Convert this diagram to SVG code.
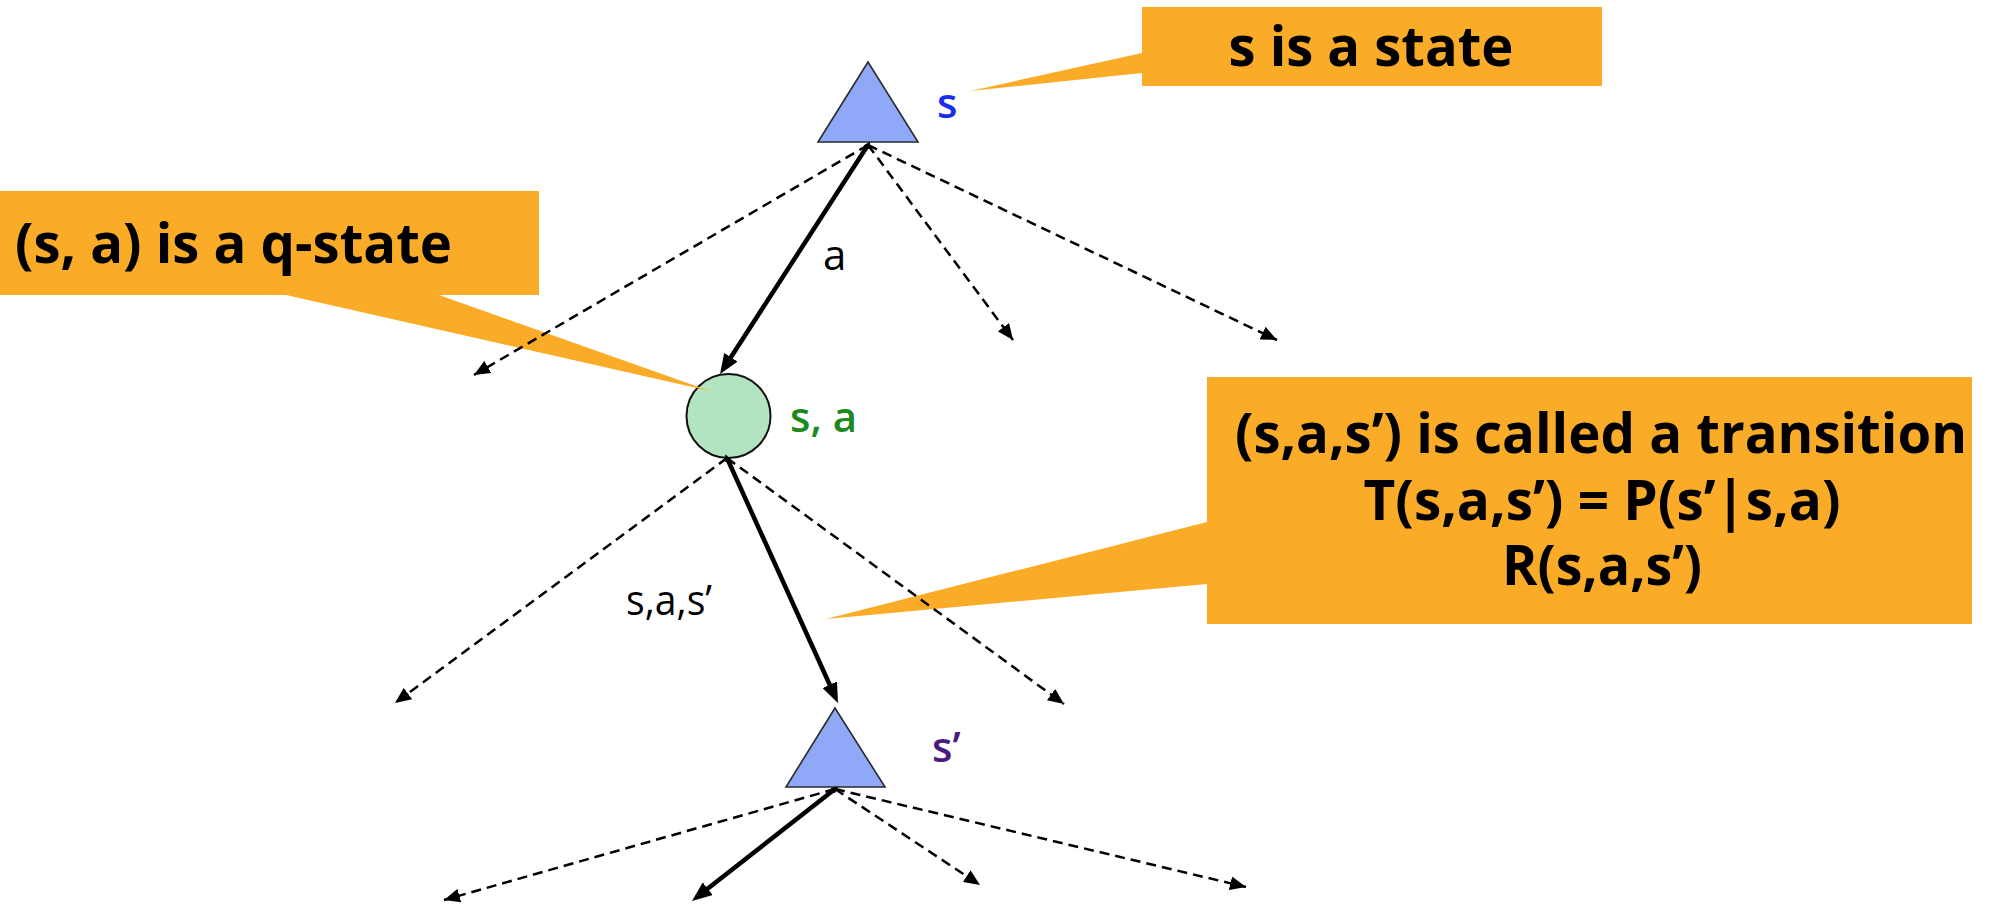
<svg xmlns="http://www.w3.org/2000/svg" width="1998" height="904" viewBox="0 0 1998 904">
<style>
.tri{fill:#8fa8f7;stroke:#2a2a2a;stroke-width:1.6}
.q{fill:#b3e4c1;stroke:#111;stroke-width:2}
.callout{fill:#faac29}
.ct{font-family:"Open Sans","Noto Sans","DejaVu Sans",sans-serif;font-weight:700;fill:#000}
.lbl{font-family:"Open Sans","Noto Sans","DejaVu Sans",sans-serif;font-size:42px}
.dash{stroke:#000;stroke-width:2.5;stroke-dasharray:10 6;fill:none;marker-end:url(#ahd)}
.solid{stroke:#000;stroke-width:4.5;fill:none;marker-end:url(#ahs);marker-start:url(#tail)}
</style>
<defs>
<marker id="ahd" viewBox="0 0 16 14" refX="16" refY="7" markerWidth="16" markerHeight="14" markerUnits="userSpaceOnUse" orient="auto"><path d="M0,0 L16,7 L0,14 Z" fill="#000"/></marker>
<marker id="ahs" viewBox="0 0 20 16" refX="14" refY="8" markerWidth="20" markerHeight="16" markerUnits="userSpaceOnUse" orient="auto"><path d="M0,0 L20,8 L0,16 Z" fill="#000"/></marker>
<marker id="tail" viewBox="0 0 7 7" refX="3" refY="3.5" markerWidth="7" markerHeight="7" markerUnits="userSpaceOnUse" orient="auto-start-reverse"><path d="M0,0 L7,3.5 L0,7 Z" fill="#000"/></marker>
</defs>

<g id="node-s">
<polygon class="tri" points="868,62 818,142 918,142"/>
<text class="lbl" x="937" y="118" fill="#1a2cf0" font-weight="600">s</text>
</g>
<g id="node-sa">
<circle class="q" cx="728.5" cy="416" r="42"/>
<text class="lbl" x="790" y="432" fill="#1d8a1d" font-weight="600">s, a</text>
</g>
<g id="node-s2">
<polygon class="tri" points="835,708 786,787 885,787"/>
<text class="lbl" x="932" y="762" fill="#4a1a7e" font-weight="600">s’</text>
</g>

<g id="callout-state">
<path class="callout" d="M1142,7 H1602 V86 H1142 V73 L970,91 L1142,53 Z"/>
<text class="ct" x="1371" y="66" font-size="55" text-anchor="middle" textLength="285" lengthAdjust="spacingAndGlyphs">s is a state</text>
</g>
<g id="callout-qstate">
<path class="callout" d="M0,191 H539 V295 H439 L710,391 L286,295 H0 Z"/>
<text class="ct" x="15" y="263" font-size="55" textLength="437" lengthAdjust="spacingAndGlyphs">(s, a) is a q-state</text>
</g>
<g id="callout-transition">
<path class="callout" d="M1207,377 H1972 V624 H1207 V584 L826,619 L1207,522 Z"/>
<text class="ct" x="1601" y="453" font-size="56" text-anchor="middle" textLength="732" lengthAdjust="spacingAndGlyphs">(s,a,s’) is called a transition</text>
<text class="ct" x="1602" y="520" font-size="56" text-anchor="middle" textLength="477" lengthAdjust="spacingAndGlyphs">T(s,a,s’) = P(s’|s,a)</text>
<text class="ct" x="1602" y="585" font-size="56" text-anchor="middle" textLength="200" lengthAdjust="spacingAndGlyphs">R(s,a,s’)</text>
</g>

<g id="connectors">
<line class="solid" x1="868" y1="145" x2="723.3" y2="369"/>
<line class="dash" x1="868" y1="145" x2="474" y2="375"/>
<line class="dash" x1="868" y1="145" x2="1013" y2="340"/>
<line class="dash" x1="868" y1="145" x2="1277" y2="340"/>
<line class="solid" x1="727" y1="458" x2="835.5" y2="697.5"/>
<line class="dash" x1="727" y1="458" x2="395" y2="703"/>
<line class="dash" x1="727" y1="458" x2="1064" y2="704"/>
<line class="solid" x1="835" y1="789" x2="696.7" y2="897.3"/>
<line class="dash" x1="835" y1="789" x2="444" y2="900"/>
<line class="dash" x1="835" y1="789" x2="980" y2="885"/>
<line class="dash" x1="835" y1="789" x2="1246" y2="887"/>
</g>

<g id="edge-labels">
<text class="lbl" x="823" y="270" fill="#000">a</text>
<text class="lbl" x="626" y="615" fill="#000" textLength="86" lengthAdjust="spacingAndGlyphs">s,a,s’</text>
</g>
</svg>
